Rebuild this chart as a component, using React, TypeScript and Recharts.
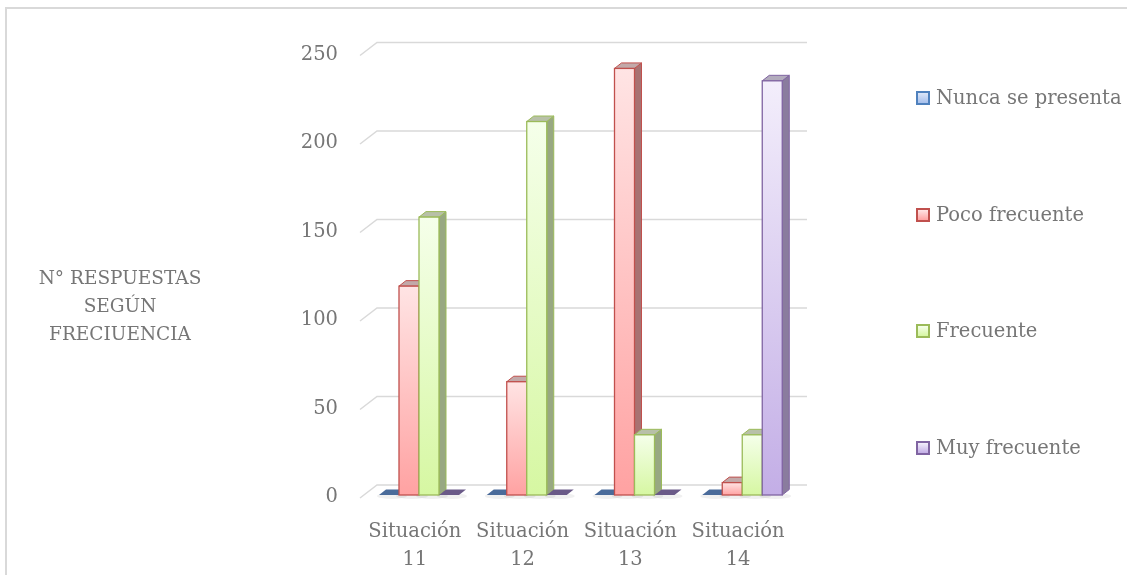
import React from 'react';
import { BarChart, Bar, XAxis, YAxis, CartesianGrid, Legend } from 'recharts';

const categories = ['Situación 11', 'Situación 12', 'Situación 13', 'Situación 14'];
const nuncaSePresenta = [0, 0, 0, 0];
const pocoFrecuente = [118, 64, 241, 7];
const frecuente = [157, 211, 34, 34];
const muyFrecuente = [0, 0, 0, 234];
const yTicks = [0, 50, 100, 150, 200, 250];
const seriesNames = ['Nunca se presenta', 'Poco frecuente', 'Frecuente', 'Muy frecuente'];
const seriesKeys = ['nunca', 'poco', 'frec', 'muy'];
const yTitleLines = ['N° RESPUESTAS', 'SEGÚN', 'FRECIUENCIA'];

const data = categories.map((c, i) => ({
  name: c,
  nunca: nuncaSePresenta[i],
  poco: pocoFrecuente[i],
  frec: frecuente[i],
  muy: muyFrecuente[i],
}));

const STYLES: Record<string, any> = {
  nunca: { stroke: '#4f81bd', top: '#dce6f8', bottom: '#a7c0ec', side: '#7f8fa8', cap: '#a8b0c0', flat: '#4a6b9a' },
  poco: { stroke: '#c0504d', top: '#ffe4e4', bottom: '#ffa2a2', side: '#a87272', cap: '#c2a9a9', flat: '#9a4a48' },
  frec: { stroke: '#9bbb59', top: '#f5ffea', bottom: '#d6f7a2', side: '#98a882', cap: '#b8c0a8', flat: '#7a9048' },
  muy: { stroke: '#8064a2', top: '#f3eefb', bottom: '#c3aee6', side: '#8a7c9e', cap: '#b2abbc', flat: '#6a5a88' },
};

const FONT = '"DejaVu Serif", serif';
const TXT = '#767676';
const DX = 7;
const DY = 5.5;

function make3D(key: string) {
  return (props: any) => {
    const { x, y, width, height } = props;
    const s = STYLES[key];
    if (!height || Math.abs(height) < 0.5) {
      const b = y + (height || 0);
      return (
        <g>
          <ellipse cx={x + width / 2 + 3} cy={b + 1} rx={width * 0.75} ry={3} fill="#000" opacity={0.06} />
          <polygon
            points={`${x},${b} ${x + width},${b} ${x + width + DX},${b - DY} ${x + DX},${b - DY}`}
            fill={s.flat}
          />
        </g>
      );
    }
    return (
      <g>
        <ellipse cx={x + width / 2 + 3} cy={y + height + 1} rx={width * 0.8} ry={3} fill="#000" opacity={0.06} />
        <polygon
          points={`${x + width},${y} ${x + width + DX},${y - DY} ${x + width + DX},${y + height - DY} ${x + width},${y + height}`}
          fill={s.side}
          stroke={s.stroke}
          strokeWidth={1}
        />
        <polygon
          points={`${x},${y} ${x + DX},${y - DY} ${x + width + DX},${y - DY} ${x + width},${y}`}
          fill={s.cap}
          stroke={s.stroke}
          strokeWidth={1}
        />
        <rect x={x} y={y} width={width} height={height} fill={`url(#grad-${key})`} stroke={s.stroke} strokeWidth={1.3} />
      </g>
    );
  };
}

const YTick = (props: any) => {
  const { x, y, payload } = props;
  return (
    <text x={x} y={y + 7} textAnchor="end" fontFamily={FONT} fontSize={19.5} fill={TXT}>
      {payload.value}
    </text>
  );
};

const XTick = (props: any) => {
  const { x, y, payload } = props;
  const parts = String(payload.value).split(' ');
  return (
    <g>
      <text x={x - 4} y={y + 42} textAnchor="middle" fontFamily={FONT} fontSize={19.5} fill={TXT}>
        {parts[0]}
      </text>
      <text x={x - 4} y={y + 70} textAnchor="middle" fontFamily={FONT} fontSize={19.5} fill={TXT}>
        {parts[1]}
      </text>
    </g>
  );
};

const gridLine = (p: any) => {
  const { x1, x2, y1, key } = p;
  return (
    <path
      key={key}
      d={`M${x1 - 5},${y1 + 3} L${x1 + 12},${y1 - 10} L${x2 + 11},${y1 - 10}`}
      stroke="#d9d9d9"
      strokeWidth={1.5}
      fill="none"
    />
  );
};

const LegendContent = () => (
  <div style={{ fontFamily: FONT, fontSize: 19.5, color: TXT }}>
    {seriesNames.map((n, i) => {
      const s = STYLES[seriesKeys[i]];
      return (
        <div key={n} style={{ display: 'flex', alignItems: 'center', height: 20, marginBottom: 96.7, whiteSpace: 'nowrap' }}>
          <div
            style={{
              width: 14,
              height: 14,
              flex: '0 0 14px',
              boxSizing: 'border-box',
              border: `2px solid ${s.stroke}`,
              background: `linear-gradient(${s.top}, ${s.bottom})`,
              marginRight: 6,
            }}
          />
          <span style={{ lineHeight: '20px' }}>{n}</span>
        </div>
      );
    })}
  </div>
);

const YTitle = () => (
  <text textAnchor="middle" fontFamily={FONT} fontSize={18.5} fill={TXT}>
    {yTitleLines.map((l, i) => (
      <tspan key={l} x={120} y={284 + i * 28}>
        {l}
      </tspan>
    ))}
  </text>
);

export default function App() {
  return (
    <div>
      <div
        style={{
          position: 'fixed',
          left: 5,
          top: 7,
          width: 1160,
          height: 600,
          boxSizing: 'border-box',
          borderLeft: '2px solid #d9d9d9',
          borderTop: '2px solid #d9d9d9',
        }}
      />
      <div style={{ position: 'fixed', left: 0, top: 0, width: 1127, height: 575 }}>
        <BarChart
          width={1127}
          height={575}
          data={data}
          margin={{ top: 52.5, right: 331, bottom: 0, left: 305 }}
          barGap={0}
          barSize={20}
        >
          <defs>
            {seriesKeys.map((k) => (
              <linearGradient key={k} id={`grad-${k}`} x1="0" y1="0" x2="0" y2="1">
                <stop offset="0%" stopColor={STYLES[k].top} />
                <stop offset="100%" stopColor={STYLES[k].bottom} />
              </linearGradient>
            ))}
          </defs>
          <CartesianGrid vertical={false} horizontal={gridLine as any} />
          <XAxis dataKey="name" axisLine={false} tickLine={false} tickSize={0} tickMargin={0} height={80} tick={<XTick />} interval={0} />
          <YAxis
            domain={[0, 250]}
            ticks={yTicks}
            axisLine={false}
            tickLine={false}
            tickSize={0}
            tickMargin={27}
            width={60}
            tick={<YTick />}
            label={{ content: () => <YTitle /> } as any}
          />
          <Legend
            layout="vertical"
            align="center"
            verticalAlign="middle"
            wrapperStyle={{ left: 916, top: 88, width: 211 }}
            content={() => <LegendContent />}
          />
          {seriesKeys.map((k, i) => (
            <Bar key={k} dataKey={k} name={seriesNames[i]} isAnimationActive={false} shape={make3D(k)} />
          ))}
        </BarChart>
      </div>
    </div>
  );
}
